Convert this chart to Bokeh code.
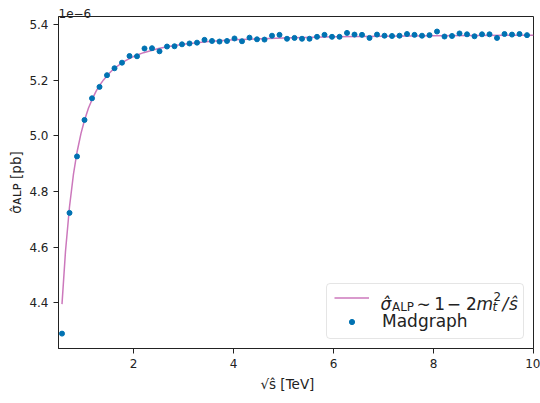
from bokeh.plotting import figure
from bokeh.models import Legend, LegendItem, Label, FixedTicker, PrintfTickFormatter
from bokeh.embed import file_html
from bokeh.resources import INLINE

# data (cross sections in units of 1e-6 pb)
sqrt_s_mg = [0.57, 0.72, 0.87, 1.02, 1.17, 1.32, 1.47, 1.62, 1.77, 1.92,
             2.07, 2.22, 2.37, 2.52, 2.67, 2.82, 2.97, 3.12, 3.27, 3.42,
             3.57, 3.72, 3.87, 4.02, 4.17, 4.32, 4.47, 4.62, 4.77, 4.92,
             5.07, 5.22, 5.37, 5.52, 5.67, 5.82, 5.97, 6.12, 6.27, 6.42,
             6.57, 6.72, 6.87, 7.02, 7.17, 7.32, 7.47, 7.62, 7.77, 7.92,
             8.07, 8.22, 8.37, 8.52, 8.67, 8.82, 8.97, 9.12, 9.27, 9.42,
             9.57, 9.72, 9.87]
sigma_mg = [4.289, 4.723, 4.926, 5.057, 5.135, 5.176, 5.218, 5.243, 5.263, 5.287,
            5.286, 5.314, 5.315, 5.304, 5.321, 5.322, 5.329, 5.332, 5.335, 5.345,
            5.341, 5.339, 5.341, 5.350, 5.340, 5.353, 5.347, 5.346, 5.360, 5.363,
            5.349, 5.352, 5.349, 5.349, 5.356, 5.363, 5.356, 5.356, 5.370, 5.364,
            5.363, 5.352, 5.364, 5.360, 5.359, 5.360, 5.366, 5.363, 5.360, 5.362,
            5.375, 5.357, 5.359, 5.368, 5.365, 5.358, 5.365, 5.365, 5.352, 5.366,
            5.364, 5.366, 5.362]

sqrt_s_th = [0.57, 0.64, 0.72, 0.80, 0.87, 0.95, 1.02, 1.10, 1.17, 1.25,
             1.32, 1.40, 1.50, 1.60, 1.75, 1.85, 2.0, 2.2, 2.5, 2.7,
             3.0, 3.5, 4.0, 5.0, 6.0, 8.0, 10.0]
sigma_th = [4.395, 4.585, 4.745, 4.863, 4.941, 5.009, 5.056, 5.100, 5.130, 5.160,
            5.181, 5.201, 5.222, 5.240, 5.260, 5.271, 5.285, 5.299, 5.314, 5.321,
            5.329, 5.339, 5.345, 5.352, 5.356, 5.360, 5.362]

x_ticks = [2, 4, 6, 8, 10]
y_ticks = [4.4, 4.6, 4.8, 5.0, 5.2, 5.4]

FONT = "DejaVu Sans"
INK = "#222222"
FL, FB = 58, 348  # frame left / bottom in canvas pixels (for placing texts)
NB = "\u00a0"

p = figure(width=540, height=403, x_range=(0.5, 10.0), y_range=(4.2355, 5.429),
           output_backend="svg", toolbar_location=None,
           min_border_left=58, min_border_right=7, min_border_top=16, min_border_bottom=55)
p.background_fill_color = "white"
p.border_fill_color = "white"
p.outline_line_color = INK
p.outline_line_width = 1
p.xgrid.visible = False
p.ygrid.visible = False

for ax in (p.xaxis[0], p.yaxis[0]):
    ax.major_label_text_font = FONT
    ax.major_label_text_font_size = "12px"
    ax.major_label_text_color = INK
    ax.axis_line_color = INK
    ax.major_tick_line_color = INK
    ax.major_tick_out = 5
    ax.major_tick_in = 0
    ax.minor_tick_line_color = None
    ax.major_label_standoff = 5
    ax.axis_label_text_font = FONT
    ax.axis_label_text_font_size = "13.5px"
    ax.axis_label_text_font_style = "normal"
    ax.axis_label_text_color = INK
    ax.axis_label_standoff = 5
p.yaxis.axis_label_standoff = 2

p.xaxis.ticker = FixedTicker(ticks=x_ticks)
p.yaxis.ticker = FixedTicker(ticks=y_ticks)
p.xaxis.formatter = PrintfTickFormatter(format="%d")
p.yaxis.formatter = PrintfTickFormatter(format="%.1f")
p.xaxis.axis_label = "√ŝ" + NB + "[TeV]" + NB * 4
p.yaxis.axis_label = "σ\u0302\u1d00\u029f\u1d18" + NB + "[pb]"

line_r = p.line(sqrt_s_th, sigma_th, line_color="#CC78BC", line_width=1.5)
pts_r = p.scatter(sqrt_s_mg, sigma_mg, size=5, fill_color="#0072B2",
                  line_color="#0072B2", marker="circle")

legend = Legend(items=[LegendItem(label=" ", renderers=[line_r]),
                       LegendItem(label="Madgraph", renderers=[pts_r])],
                location="bottom_right")
legend.label_text_font = FONT
legend.label_text_font_size = "17px"
legend.label_text_color = INK
legend.label_width = 134
legend.label_standoff = 13
legend.glyph_width = 35
legend.glyph_height = 13
legend.spacing = 7
legend.padding = 7
legend.margin = 9
legend.border_line_color = "#cccccc"
legend.border_line_width = 1
legend.border_radius = 4
legend.background_fill_alpha = 0.0
p.add_layout(legend)


def put(text, cx, cy, size, italic=False, angle=0.0, side="center"):
    """Place a text piece with its baseline origin at canvas pixel (cx, cy)."""
    if side == "center":
        lab = Label(x=cx - FL, y=FB - cy, x_units="screen", y_units="screen",
                    level="overlay")
    else:
        lab = Label(x=cx, y=cy, x_units="canvas", y_units="canvas")
    lab.text = text
    lab.text_font = FONT
    lab.text_font_size = f"{size}px"
    lab.text_font_style = "italic" if italic else "normal"
    lab.text_color = INK
    lab.text_baseline = "alphabetic"
    lab.text_align = "left"
    lab.angle = angle
    p.add_layout(lab, side)


# legend entry 1 text:  σ̂_ALP ~ 1 − 2 m_t^2 / ŝ
yb = 303.3
put("σ\u0302", 380.0, yb, 17, italic=True)
put("ALP", 391.5, yb + 3.0, 11.9)
put("∼", 416.0, yb, 17)
put("1", 433.8, yb, 17)
put("−", 446.2, yb, 17)
put("2", 465.4, yb, 17)
put("m", 476.0, yb, 17, italic=True)
put("t", 492.0, yb + 3.5, 11.9, italic=True)
put("2", 493.0, yb - 7.5, 11.9)
put("/", 502.0, yb, 17, italic=True)
put("ŝ", 508.5, yb, 17, italic=True)

# offset text
put("1e−6", 58.0, 12.7, 12, side="above")

open("out.html", "w").write(file_html(p, INLINE))
